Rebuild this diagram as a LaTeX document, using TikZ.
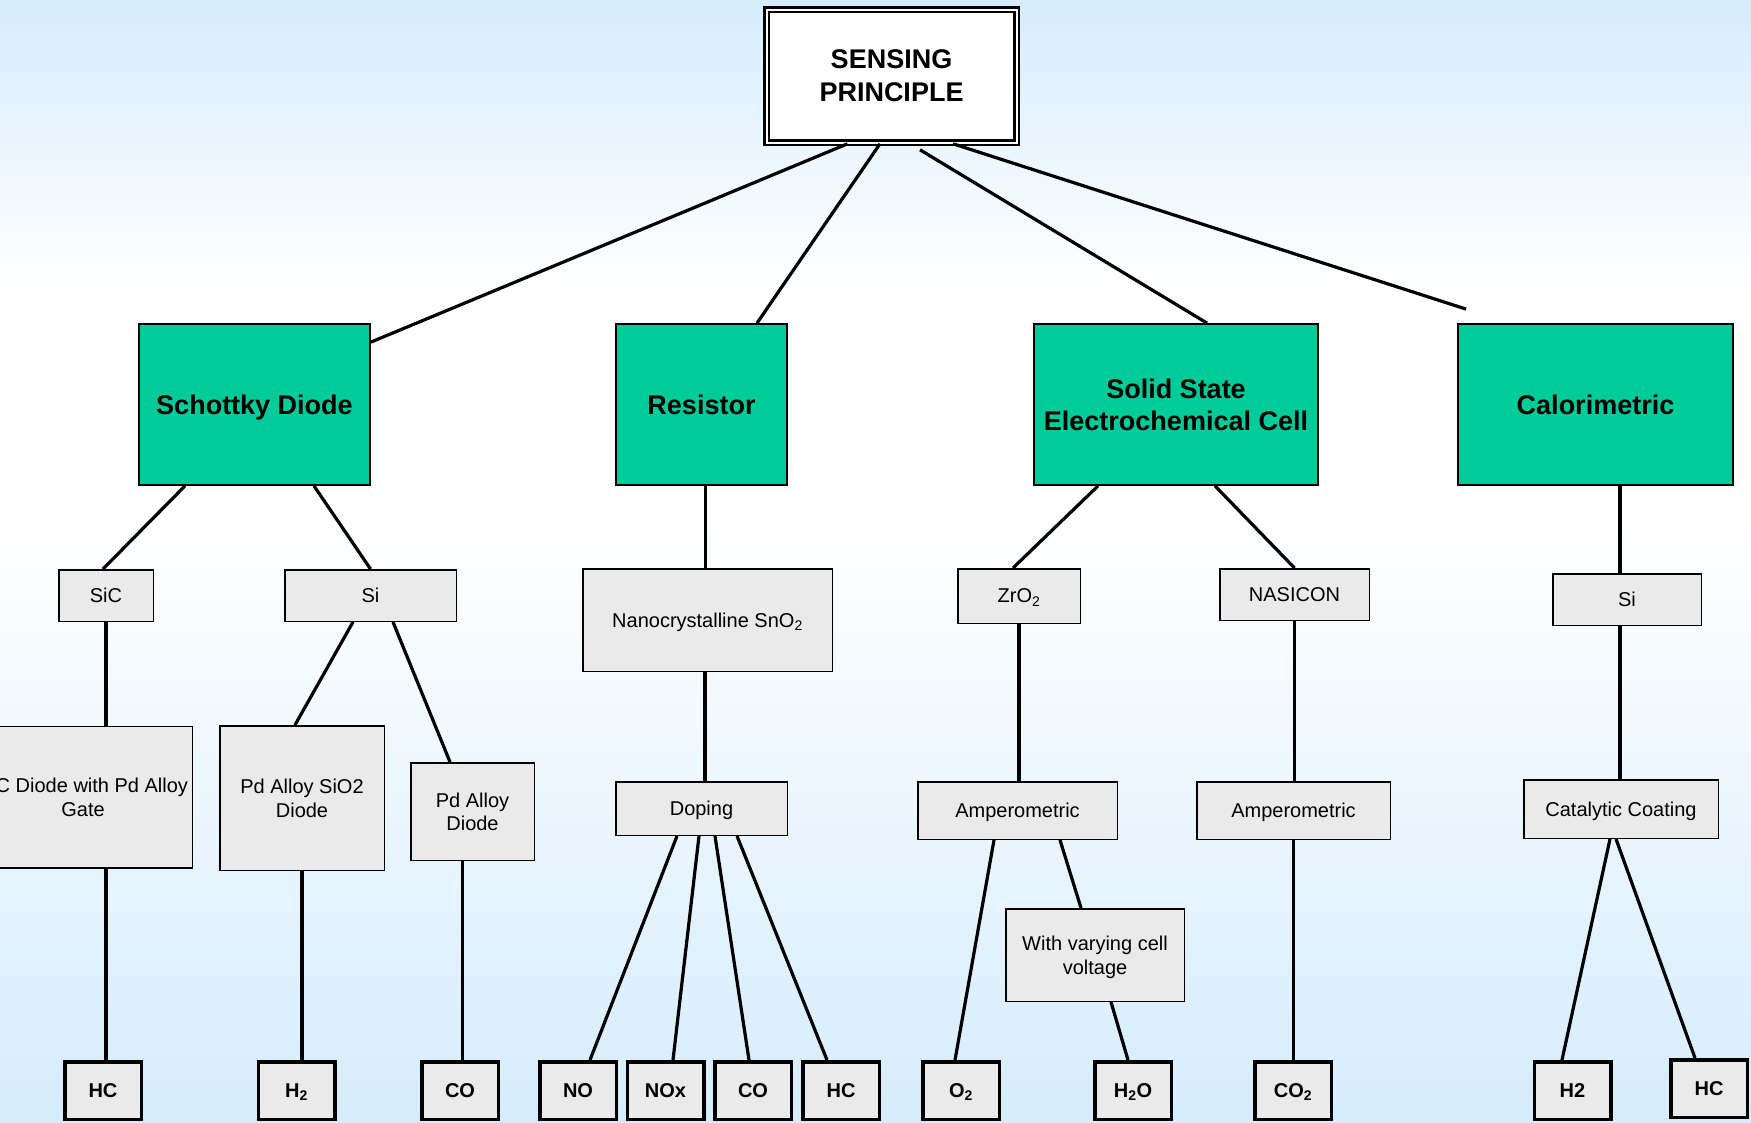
\documentclass[tikz,border=0pt]{standalone}
\usepackage{fontspec}
\setmainfont{Liberation Sans}
\usetikzlibrary{calc}
\usepackage{xcolor}
\definecolor{skyblue}{HTML}{D5ECFC}
\definecolor{methodgreen}{HTML}{00CC99}
\definecolor{boxgray}{HTML}{EAEAEA}

\tikzset{
  principle/.style={draw, line width=2.6pt, double, double distance=2pt, fill=white, inner sep=0pt, align=center, text depth=0pt, font=\fontsize{27}{33}\selectfont\bfseries},
  method/.style={draw, line width=1.8pt, fill=methodgreen, inner sep=0pt, align=center, text depth=0pt, minimum height=161pt, font=\fontsize{27}{32}\selectfont\bfseries},
  material/.style={draw, line width=1.5pt, fill=boxgray, inner sep=0pt, align=center, text depth=0pt, font=\fontsize{20}{23.5}\selectfont},
  gas/.style={draw, line width=3.5pt, fill=boxgray, inner sep=0pt, text depth=0pt, minimum width=76.5pt, minimum height=57.5pt, font=\fontsize{20}{23}\selectfont\bfseries},
  link/.style={line width=3.2pt},
}

\begin{document}
\begin{tikzpicture}[x=1pt, y=-1pt]
    \useasboundingbox (0,0) rectangle (1751,1122);
    % Background
    \shade[top color=skyblue, bottom color=white] (0,0) rectangle (1751,290);
    \fill[white] (0,290) rectangle (1751,520);
    \shade[top color=white, bottom color=skyblue] (0,520) rectangle (1751,1122);

    % Root
    \node[principle, minimum width=250pt, minimum height=133pt] (top) at (891.5,76) {SENSING\\PRINCIPLE};

    % Principles
    \node[method, minimum width=231pt] (schottky) at (254.5,404.5) {Schottky Diode};
    \node[method, minimum width=171pt] (resistor) at (701.5,404.5) {Resistor};
    \node[method, minimum width=284pt] (solid) at (1176,404.5) {Solid State\\Electrochemical Cell};
    \node[method, minimum width=275pt] (calor) at (1595.5,404.5) {Calorimetric};

    % Materials
    \node[material, minimum width=94.5pt, minimum height=51.5pt] (sic) at (106,595.5) {SiC};
    \node[material, minimum width=171.5pt, minimum height=51.5pt] (si) at (370.5,595.5) {Si};
    \node[material, minimum width=249.5pt, minimum height=102.5pt] (nano) at (707.5,620) {Nanocrystalline SnO\textsubscript{2}};
    \node[material, minimum width=122.5pt, minimum height=54.5pt] (zro) at (1019,596) {ZrO\textsubscript{2}};
    \node[material, minimum width=149.5pt, minimum height=51.5pt] (nasicon) at (1294.5,594.5) {NASICON};
    \node[material, minimum width=148.5pt, minimum height=51.5pt] (sical) at (1627,599.5) {Si};

    % Devices
    \node[material, minimum width=218.5pt, minimum height=141.5pt] (sicdiode) at (83,797) {SiC Diode with Pd Alloy\\Gate};
    \node[material, minimum width=164.5pt, minimum height=144.5pt] (pdsio) at (302,798) {Pd Alloy SiO2\\Diode};
    \node[material, minimum width=123.5pt, minimum height=97.5pt] (pddiode) at (472.5,811.5) {Pd Alloy\\Diode};
    \node[material, minimum width=171.5pt, minimum height=53.5pt] (doping) at (701.5,808.5) {Doping};
    \node[material, minimum width=199.5pt, minimum height=57.5pt] (ampzr) at (1017.5,810.5) {Amperometric};
    \node[material, minimum width=178.5pt, minimum height=92.5pt] (varying) at (1095,955) {With varying cell\\voltage};
    \node[material, minimum width=193.5pt, minimum height=57.5pt] (ampnas) at (1293.5,810.5) {Amperometric};
    \node[material, minimum width=194.5pt, minimum height=58.5pt] (catal) at (1621,809) {Catalytic Coating};

    % Gases
    \node[gas] (hcA) at (103,1090.5) {HC};
    \node[gas] (htwo) at (296.5,1090.5) {H\textsubscript{2}};
    \node[gas] (coA) at (460,1090.5) {CO};
    \node[gas] (no) at (578,1090.5) {NO};
    \node[gas] (nox) at (665.5,1090.5) {NOx};
    \node[gas] (coB) at (753,1090.5) {CO};
    \node[gas] (hcB) at (841,1090.5) {HC};
    \node[gas] (otwo) at (961,1090.5) {O\textsubscript{2}};
    \node[gas] (hto) at (1133,1090.5) {H\textsubscript{2}O};
    \node[gas] (cotwo) at (1293,1090.5) {CO\textsubscript{2}};
    \node[gas] (htwoB) at (1572.5,1090.5) {H2};
    \node[gas] (hcC) at (1709,1088.5) {HC};

    % Root links
    \draw[link] ($(top.south)+(-44,0)$) -- ($(schottky.north east)+(0,19)$);
    \draw[link] ($(top.south)+(-11.5,0)$) -- ($(resistor.north)+(55.5,0)$);
    \draw[link] ($(top.south)+(28.5,6)$) -- ($(solid.north)+(31,0)$);
    \coordinate (calend) at ($(calor.north west)+(9,-14)$);
    \draw[link] ($(top.south)+(61.5,0)$) -- (calend);

    % Principle links
    \draw[link] ($(schottky.south)+(-69.5,0)$) -- ($(sic.north)+(-3,0)$);
    \draw[link] ($(schottky.south)+(59.5,0)$) -- (si.north);
    \draw[link] ($(resistor.south)+(4,0)$) -- ($(nano.north)+(-2,0)$);
    \draw[link] ($(solid.south)+(-78,0)$) -- ($(zro.north)+(-6,0)$);
    \draw[link] ($(solid.south)+(39,0)$) -- (nasicon.north);
    \draw[link] ($(calor.south)+(24.5,0)$) -- ($(sical.north)+(-7,0)$);

    % Material links
    \draw[link] (sic.south) -- (sic.south |- sicdiode.north);
    \draw[link] ($(si.south)+(-17.5,0)$) -- ($(pdsio.north)+(-7,0)$);
    \draw[link] ($(si.south)+(22.5,0)$) -- ($(pddiode.north)+(-22.5,0)$);
    \draw[link] ($(nano.south)+(-2.5,0)$) -- ($(doping.north)+(3.5,0)$);
    \draw[link] (zro.south) -- (zro.south |- ampzr.north);
    \draw[link] (nasicon.south) -- (nasicon.south |- ampnas.north);
    \draw[link] ($(sical.south)+(-7,0)$) -- ($(catal.north)+(-1,0)$);

    % Device links
    \draw[link] ($(sicdiode.south)+(23,0)$) -- ($(hcA.north)+(3,0)$);
    \draw[link] (pdsio.south) -- (pdsio.south |- htwo.north);
    \draw[link] ($(pddiode.south)+(-10,0)$) -- ($(coA.north)+(2.5,0)$);
    \draw[link] ($(doping.south)+(-24.5,0)$) -- ($(no.north)+(12,0)$);
    \draw[link] ($(doping.south)+(-2.5,0)$) -- ($(nox.north)+(7.5,0)$);
    \draw[link] ($(doping.south)+(13.5,0)$) -- ($(coB.north)+(-4,0)$);
    \draw[link] ($(doping.south)+(35.5,0)$) -- ($(hcB.north)+(-14,0)$);
    \draw[link] ($(ampzr.south)+(-23.5,0)$) -- ($(otwo.north)+(-6,0)$);
    \draw[link] ($(ampzr.south)+(42.5,0)$) -- ($(varying.north)+(-14,0)$);
    \draw[link] ($(varying.south)+(16,0)$) -- ($(hto.north)+(-5,0)$);
    \draw[link] (ampnas.south) -- (ampnas.south |- cotwo.north);
    \draw[link] ($(catal.south)+(-11,0)$) -- ($(htwoB.north)+(-10.5,0)$);
    \draw[link] ($(catal.south)+(-5,0)$) -- ($(hcC.north)+(-14,0)$);
\end{tikzpicture}
\end{document}
